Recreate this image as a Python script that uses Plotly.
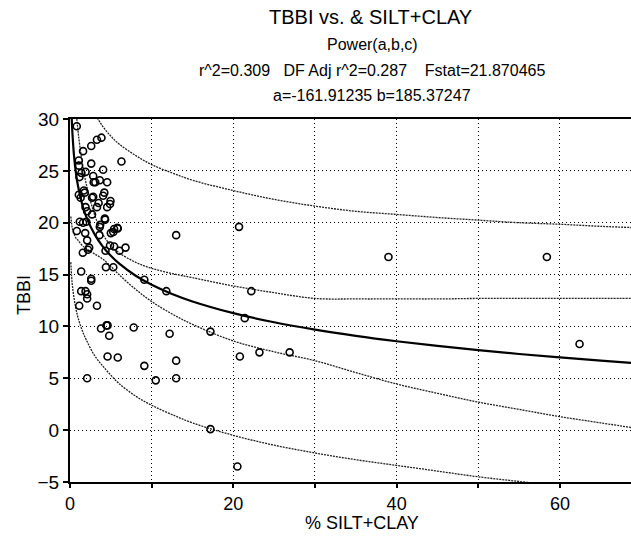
import plotly.graph_objects as go

# ---- scatter data: % SILT+CLAY vs TBBI ----
silt_clay = [0.83, 3.85, 3.3, 2.6, 1.6, 1.08, 6.3, 2.6, 1.1, 1.9, 1.4, 4.06, 1.16, 2.84, 3.65,
             2.9, 3.1, 4.55, 1.7, 1.8, 4.2, 4.06, 1.08, 1.3, 2.84, 2.7, 4.96, 4.9, 3.5, 3.3,
             1.9, 2.1, 4.55, 2.7, 4.26, 1.2, 1.6, 2.0, 3.7, 5.8,
             4.3, 0.83, 1.86, 2.1, 1.57, 2.2, 2.35, 3.6, 3.65, 5.0, 5.3, 5.4, 5.85, 4.9,
             5.4, 4.35, 6.06, 6.8, 4.4, 5.3, 1.37, 2.6, 2.6, 9.1, 11.8, 1.37, 1.9, 2.1,
             2.1, 1.13, 3.3, 3.8, 4.47, 4.6, 7.8, 4.8, 12.2, 4.6, 5.85, 9.1, 13.0, 10.5,
             13.0, 2.1, 13.0, 20.7, 39.0, 22.2, 21.4, 17.2, 20.8, 23.2, 26.9, 17.2, 58.4,
             62.4, 20.5]
tbbi = [29.3, 28.2, 28.0, 27.4, 26.9, 26.0, 25.9, 25.7, 25.5, 24.9, 24.8, 25.1, 24.4, 24.5, 24.1,
        23.9, 23.9, 23.9, 23.1, 22.9, 22.9, 22.6, 22.7, 22.4, 22.5, 22.4, 22.1, 21.8, 21.9, 21.5,
        21.5, 21.1, 21.5, 20.8, 20.4, 20.1, 20.0, 20.1, 19.8, 19.5,
        20.3, 19.2, 19.0, 18.3, 17.1, 17.4, 17.6, 18.8, 19.6, 19.0, 19.1, 19.4, 19.45, 17.8,
        17.7, 17.3, 17.3, 17.6, 15.7, 15.7, 15.3, 14.6, 14.4, 14.5, 13.4, 13.4, 13.4, 13.1,
        12.7, 12.0, 12.0, 9.8, 10.1, 10.1, 9.9, 9.1, 9.3, 7.1, 7.0, 6.2, 6.7, 4.8,
        5.0, 5.0, 18.8, 19.6, 16.7, 13.4, 10.8, 9.5, 7.1, 7.5, 7.5, 0.1, 16.7,
        8.3, -3.5]

# ---- fitted curve and bands ----
fit_x = [0.1, 0.2, 0.3, 0.5, 0.75, 1, 1.5, 2, 3, 4, 5, 6, 8, 10, 12.5, 15, 20, 25, 30,
         35, 40, 45, 50, 55, 60, 65, 70]
fit_y = [33.41, 30.36, 28.60, 26.40, 24.67, 23.46, 21.76, 20.57, 18.90, 17.72, 16.81, 16.07,
         14.91, 14.02, 13.13, 12.41, 11.28, 10.40, 9.69, 9.09, 8.57, 8.12, 7.71, 7.34, 7.01,
         6.70, 6.42]
conf_up = [46.2, 40.9, 37.8, 33.9, 30.9, 28.7, 25.8, 23.7, 20.8, 18.9, 17.8, 17.1, 16.2, 15.6,
           15.1, 14.7, 13.9, 13.25, 12.7, 12.65, 12.65, 12.65, 12.7, 12.7, 12.7, 12.7, 12.7]
conf_lo = [20.6, 19.9, 19.4, 18.9, 18.5, 18.3, 17.8, 17.5, 17.0, 16.5, 15.8, 15.0, 13.6, 12.4,
           11.2, 10.2, 8.6, 7.55, 6.7, 5.55, 4.45, 3.55, 2.7, 2.0, 1.3, 0.7, 0.1]
pred_up = [50.6, 45.9, 43.3, 40.1, 37.7, 36.1, 33.9, 32.5, 30.6, 29.3, 28.35, 27.6, 26.5, 25.6,
           24.8, 24.1, 23.1, 22.25, 21.6, 21.1, 20.8, 20.5, 20.25, 20.0, 19.85, 19.65, 19.5]
pred_lo = [16.2, 14.8, 13.9, 12.7, 11.6, 10.8, 9.6, 8.7, 7.2, 6.2, 5.3, 4.5, 3.3, 2.4, 1.5,
           0.7, -0.5, -1.45, -2.2, -2.85, -3.4, -3.95, -4.5, -4.95, -5.4, -5.85, -6.3]

# ---- axis ticks ----
x_tickvals = [0, 10, 20, 30, 40, 50, 60]
x_ticktext = ['0', '', '20', '', '40', '', '60']
y_tickvals = [-5, 0, 5, 10, 15, 20, 25, 30]

title_lines = ['TBBI vs. & SILT+CLAY', 'Power(a,b,c)',
               'r^2=0.309   DF Adj r^2=0.287    Fstat=21.870465',
               'a=-161.91235 b=185.37247']

FONT = 'Arial, Liberation Sans, sans-serif'
L, T, B = 70, 119, 54
W, H = 631, 536
plot_h = H - T - B
plot_w = W - L

fig = go.Figure()
band_style = dict(color='#222222', width=1.3, dash='2px,1px')
for yy in (pred_up, pred_lo, conf_up, conf_lo):
    fig.add_trace(go.Scatter(x=fit_x, y=yy, mode='lines', line=band_style,
                             line_shape='spline', hoverinfo='skip'))
fig.add_trace(go.Scatter(x=fit_x, y=fit_y, mode='lines', line_shape='spline',
                         line=dict(color='black', width=2.2)))
fig.add_trace(go.Scatter(x=silt_clay, y=tbbi, mode='markers',
                         marker=dict(symbol='circle-open', size=7, color='black',
                                     line=dict(width=1.6, color='black'))))

centers = [370, 372, 372, 372]
ys_px = [17, 44, 70, 96]
sizes = [20, 16, 16, 16]
for txt, xpx, ypx, sz in zip(title_lines, centers, ys_px, sizes):
    fig.add_annotation(text=txt, xref='paper', yref='paper', x=(xpx - L) / plot_w,
                       y=(H - B - ypx) / plot_h, xanchor='center', yanchor='middle',
                       showarrow=False, font=dict(family=FONT, size=sz, color='black'))
fig.add_annotation(text='% SILT+CLAY', xref='paper', yref='paper', x=(362 - L) / plot_w,
                   y=(H - B - 535) / plot_h, xanchor='center', yanchor='bottom',
                   showarrow=False, font=dict(family=FONT, size=18, color='black'))
fig.add_annotation(text='TBBI', xref='paper', yref='paper', x=(24 - L) / plot_w,
                   y=(H - B - 295) / plot_h, xanchor='center', yanchor='middle', textangle=-90,
                   showarrow=False, font=dict(family=FONT, size=18, color='black'))

fig.update_layout(
    width=W, height=H, margin=dict(l=L, r=0, t=T, b=B),
    paper_bgcolor='white', plot_bgcolor='white', showlegend=False,
    font=dict(family=FONT, color='black'),
)
fig.update_xaxes(range=[0, 68.7], tickvals=x_tickvals, ticktext=x_ticktext,
                 showgrid=True, gridcolor='black', gridwidth=1, griddash='1px,3px',
                 zeroline=False, showline=True, linecolor='black', linewidth=2, mirror=True,
                 ticks='outside', ticklen=4, tickwidth=1.5, tickcolor='black',
                 tickfont=dict(size=18, family=FONT, color='black'))
fig.update_yaxes(range=[-5, 30], tickvals=y_tickvals,
                 showgrid=True, gridcolor='black', gridwidth=1, griddash='1px,3px',
                 zeroline=False, showline=True, linecolor='black', linewidth=2, mirror=False,
                 ticks='outside', ticklen=5, tickwidth=1.5, tickcolor='black',
                 tickfont=dict(size=19, family=FONT, color='black'))

fig.write_html('out.html', config={'displayModeBar': False},
               post_script="document.body.style.margin='0px';")
